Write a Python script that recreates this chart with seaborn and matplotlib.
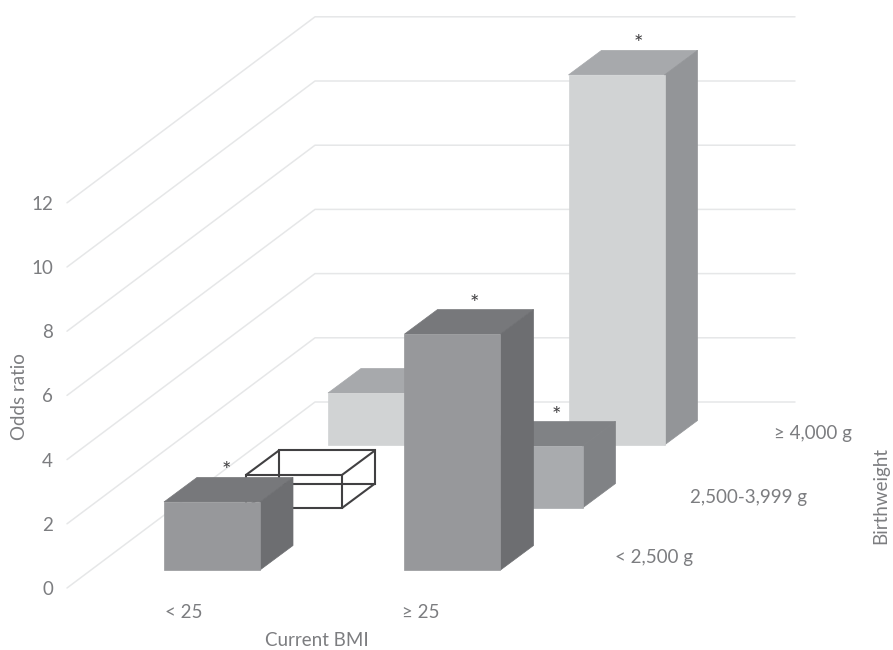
import pandas as pd
import matplotlib
matplotlib.use("Agg")
import matplotlib.pyplot as plt
from matplotlib.patches import Polygon
from matplotlib.transforms import Affine2D
import seaborn as sns

# values
bmi_groups = ["< 25", "≥ 25"]
birthweights = ["< 2,500 g", "2,500-3,999 g", "≥ 4,000 g"]
odds_low = [2.12, 7.35]
odds_mid = [1.03, 1.93]
odds_high = [1.62, 11.53]
odds_ticks = [0, 2, 4, 6, 8, 10, 12]

# front, top, side colours per birthweight row
row_colors = {
    "< 2,500 g": ("#97989b", "#77787b", "#6d6e71"),
    "2,500-3,999 g": ("#a9abae", "#808285", "#808285"),
    "≥ 4,000 g": ("#d1d3d4", "#a7a9ac", "#939598"),
}
row_shift = {"< 2,500 g": (0, 0), "2,500-3,999 g": (82, 62), "≥ 4,000 g": (164, 125)}
# sideways nudge of each star in pixels
starred = {("< 25", "< 2,500 g"): -2, ("≥ 25", "< 2,500 g"): 5, ("≥ 25", "2,500-3,999 g"): 5, ("≥ 25", "≥ 4,000 g"): 5}
reference = ("< 25", "2,500-3,999 g")

df = pd.DataFrame({
    "bmi": bmi_groups * 3,
    "birthweight": [b for b in birthweights for _ in bmi_groups],
    "odds": odds_low + odds_mid + odds_high,
})

W, H = 893, 650
PX_X = 240.5   # pixels between the two BMI groups
PX_Y = 32.1    # pixels per odds unit
X0, Y0 = 212, 570
DEPTH = (33 / PX_X, 24.5 / PX_Y)
LABEL = dict(fontsize=13.5, color="#7c7d80", va="center")


def to_x(px):
    return (px - X0) / PX_X


def to_y(py):
    return (Y0 - py) / PX_Y


sns.set_theme(style="white")
plt.rcParams["font.family"] = ["Lato", "DejaVu Sans"]
fig = plt.figure(figsize=(W / 100, H / 100), dpi=100)
ax = fig.add_axes([0, 0, 1, 1])

# wall and floor lines
for v in odds_ticks:
    ax.plot([to_x(67), to_x(315), to_x(795)],
            [to_y(588) + v, to_y(402) + v, to_y(402) + v],
            color="#e6e7e8", lw=1.1, zorder=1)
    ax.text(to_x(53), to_y(589.5) + v, str(v), ha="right", **LABEL)

# back rows first so the front rows cover them
for r, bw in reversed(list(enumerate(birthweights))):
    zo = 10 + (2 - r) * 5
    before = len(ax.patches)
    sns.barplot(data=df[df.birthweight == bw], x="bmi", y="odds", order=bmi_groups,
                width=96 / PX_X, color=row_colors[bw][0], saturation=1, ax=ax, zorder=zo, linewidth=0)
    bars = list(ax.patches[before:])
    sx, sy = row_shift[bw]
    shift = Affine2D().translate(sx / PX_X, sy / PX_Y) + ax.transData
    fc, tc, oc = row_colors[bw]
    for name, bar in zip(bmi_groups, bars):
        x0, x1 = bar.get_x(), bar.get_x() + bar.get_width()
        h = bar.get_height()
        dx, dy = DEPTH
        bar.set_transform(shift)
        top = [(x0, h), (x1, h), (x1 + dx, h + dy), (x0 + dx, h + dy)]
        side = [(x1, 0), (x1 + dx, dy), (x1 + dx, h + dy), (x1, h)]
        if (name, bw) == reference:
            # reference group is only an outline
            bar.set_facecolor("none")
            bar.set_edgecolor("#414042")
            bar.set_linewidth(1.5)
            bar.set_zorder(zo + 1)
            back = Polygon([(x0 + dx, dy), (x1 + dx, dy), (x1 + dx, h + dy), (x0 + dx, h + dy)],
                           closed=True, fc="white", ec="#414042", lw=1.5, transform=shift, zorder=zo)
            ax.add_patch(back)
            for xe, ye in [(x0, 0), (x1, 0), (x0, h), (x1, h)]:
                ax.plot([xe, xe + dx], [ye, ye + dy], color="#414042", lw=1.5, transform=shift, zorder=zo + 1)
        else:
            # thin edges in the same colour close the seams between faces
            bar.set_edgecolor(fc)
            bar.set_linewidth(0.5)
            bar.set_zorder(zo + 1)
            ax.add_patch(Polygon(top, closed=True, fc=tc, ec=tc, lw=0.5, transform=shift, zorder=zo))
            ax.add_patch(Polygon(side, closed=True, fc=oc, ec=oc, lw=0.5, transform=shift, zorder=zo))
        if (name, bw) in starred:
            ax.text((x0 + x1) / 2 + dx / 2 + starred[(name, bw)] / PX_X, h + dy + 6 / PX_Y, "*", ha="center", va="center",
                    fontsize=16, color="#414042", transform=shift, zorder=40)

ax.set_xlim(to_x(0), to_x(W))
ax.set_ylim(to_y(H), to_y(0))
ax.set_xlabel("")
ax.set_ylabel("")
ax.axis("off")

# axis and category labels
for name, px in zip(bmi_groups, [184, 421]):
    ax.text(to_x(px), to_y(613), name, ha="center", **LABEL)
for name, px, py in zip(birthweights, [654, 749, 813], [558, 497, 434]):
    ax.text(to_x(px), to_y(py), name, ha="center", **LABEL)
ax.text(to_x(317), to_y(640), "Current BMI", ha="center", **LABEL)
ax.text(to_x(20), to_y(397), "Odds ratio", ha="center", rotation=90, **LABEL)
ax.text(to_x(881), to_y(496), "Birthweight", ha="center", rotation=90, **LABEL)

fig.savefig("out.png", dpi=100)
